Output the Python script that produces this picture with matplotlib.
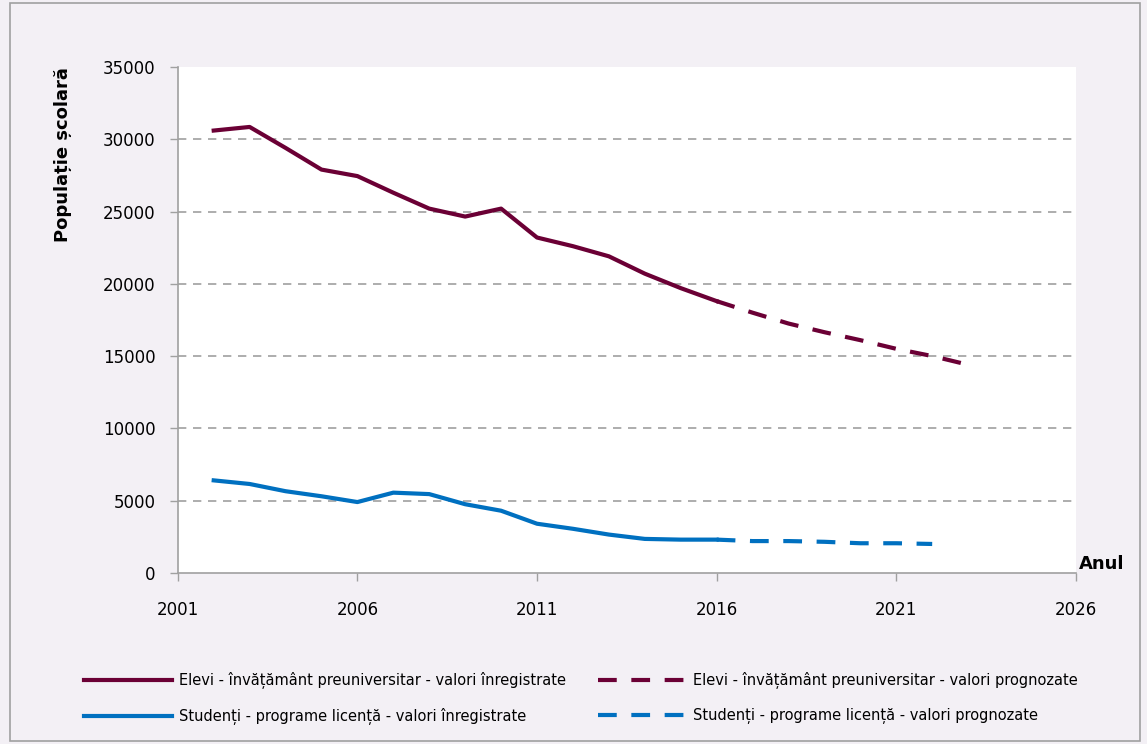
import matplotlib.pyplot as plt
from matplotlib.patches import Rectangle

# date
ani_elevi = [2002, 2003, 2004, 2005, 2006, 2007, 2008, 2009, 2010, 2011, 2012, 2013, 2014, 2015, 2016]
elevi = [30600, 30850, 29400, 27900, 27450, 26300, 25200, 24650, 25200, 23200, 22600, 21900, 20700, 19700, 18800]
ani_elevi_prog = [2016, 2017, 2018, 2019, 2020, 2021, 2022, 2023]
elevi_prog = [18800, 18000, 17250, 16650, 16100, 15500, 15000, 14400]

ani_stud = [2002, 2003, 2004, 2005, 2006, 2007, 2008, 2009, 2010, 2011, 2012, 2013, 2014, 2015, 2016]
studenti = [6400, 6150, 5650, 5300, 4900, 5550, 5450, 4750, 4300, 3400, 3050, 2650, 2350, 2300, 2300]
ani_stud_prog = [2016, 2017, 2018, 2019, 2020, 2021, 2022]
studenti_prog = [2300, 2200, 2200, 2150, 2050, 2050, 2000]

x_ticks = [2001, 2006, 2011, 2016, 2021, 2026]
y_ticks = [0, 5000, 10000, 15000, 20000, 25000, 30000, 35000]

col_elevi = '#6B0035'
col_stud = '#0070C0'

fig = plt.figure(figsize=(11.47, 7.44), dpi=100, facecolor='#F3F0F5')
ax = fig.add_axes([0.155, 0.23, 0.783, 0.68])
ax.set_facecolor('white')

l1, = ax.plot(ani_elevi, elevi, color=col_elevi, lw=3,
              label='Elevi - învățământ preuniversitar - valori înregistrate')
l2, = ax.plot(ani_elevi_prog, elevi_prog, color=col_elevi, lw=3, dashes=(4.5, 3.5),
              label='Elevi - învățământ preuniversitar - valori prognozate')
l3, = ax.plot(ani_stud, studenti, color=col_stud, lw=3,
              label='Studenți - programe licență - valori înregistrate')
l4, = ax.plot(ani_stud_prog, studenti_prog, color=col_stud, lw=3, dashes=(4.5, 3.5),
              label='Studenți - programe licență - valori prognozate')

ax.set_xlim(2001, 2026)
ax.set_ylim(0, 35000)
ax.set_xticks(x_ticks)
ax.set_yticks(y_ticks)
ax.tick_params(labelsize=12, color='#A0A0A0', length=6, width=1)
ax.tick_params(axis='x', pad=14)
ax.tick_params(axis='y', pad=10)

# grila punctata, fara linie la 35000
for y in y_ticks[1:-1]:
    ax.axhline(y, color='#A0A0A0', lw=1.2, dashes=(5, 4), zorder=0)

for s in ['top', 'right']:
    ax.spines[s].set_visible(False)
for s in ['left', 'bottom']:
    ax.spines[s].set_color('#A0A0A0')
    ax.spines[s].set_linewidth(1.2)

ax.set_ylabel('Populație școlară', fontsize=13, fontweight='bold', labelpad=22, loc='top')
ax.annotate('Anul', xy=(1.003, 0), xycoords='axes fraction', fontsize=13,
            fontweight='bold', ha='left', va='bottom')

# ordinea pe randuri: elevi (inregistrat, prognoza), studenti (inregistrat, prognoza)
fig.legend([l1, l3, l2, l4], [h.get_label() for h in [l1, l3, l2, l4]],
           loc='lower left', bbox_to_anchor=(0.062, 0.008), ncol=2, frameon=False,
           fontsize=10.5, handlelength=6, handletextpad=0.5, columnspacing=2.2,
           labelspacing=1.3)

fig.add_artist(Rectangle((0.009, 0.004), 0.985, 0.992, transform=fig.transFigure,
                         fill=False, edgecolor='#A0A0A0', lw=1.2))

fig.savefig('out.png', dpi=100, facecolor=fig.get_facecolor())
